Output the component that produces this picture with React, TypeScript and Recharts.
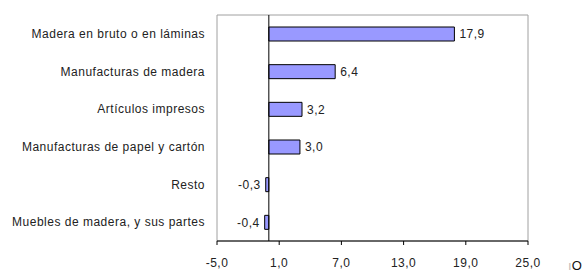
import { BarChart, Bar, XAxis, YAxis, ReferenceLine, ReferenceArea, LabelList } from "recharts";

const categories = [
  "Madera en bruto o en láminas",
  "Manufacturas de madera",
  "Artículos impresos",
  "Manufacturas de papel y cartón",
  "Resto",
  "Muebles de madera, y sus partes",
];

const values = [17.9, 6.4, 3.2, 3.0, -0.3, -0.4];

const xTicks = [-5, 1, 7, 13, 19, 25];

const data = categories.map((name, i) => ({ name, value: values[i] }));

const fmt = (v: number) => v.toFixed(1).replace(".", ",");

const FONT = "Arial, 'Liberation Sans', sans-serif";
const textStyle = { fill: "#222", fontSize: 12, fontFamily: FONT, letterSpacing: 0.5 };

export default function App() {
  return (
    <div style={{ position: "absolute", left: 0, top: 0, width: 588, height: 275, background: "#fff", overflow: "hidden" }}>
      <BarChart
        width={588}
        height={275}
        data={data}
        layout="vertical"
        margin={{ top: 15, right: 60, left: 0, bottom: 4 }}
      >
        <ReferenceArea x1={-5} x2={25} fill="none" stroke="#a0a0a0" strokeWidth={1} ifOverflow="extendDomain" />
        <XAxis
          type="number"
          domain={[-5, 25]}
          ticks={xTicks}
          tickFormatter={fmt}
          axisLine={{ stroke: "#000" }}
          tickLine={{ stroke: "#000" }}
          tickSize={4}
          tickMargin={13}
          height={30}
          tick={textStyle}
        />
        <YAxis
          type="category"
          dataKey="name"
          width={217}
          axisLine={false}
          tickLine={false}
          tickSize={0}
          tickMargin={12}
          tick={textStyle}
        />
        <ReferenceLine x={0} stroke="#000" strokeWidth={1} />
        <Bar dataKey="value" fill="#9999ff" stroke="#000" strokeWidth={1} barSize={14} isAnimationActive={false}>
          <LabelList
            dataKey="value"
            position="right"
            offset={5}
            formatter={(v: any) => fmt(Number(v))}
            style={textStyle}
          />
        </Bar>
      </BarChart>
      <span
        style={{
          position: "absolute",
          left: 568,
          top: 259,
          fontFamily: FONT,
          fontSize: 13,
          color: "#111",
          lineHeight: "13px",
          whiteSpace: "nowrap",
        }}
      >
        <span style={{ color: "#bbb" }}>ı</span>O
      </span>
    </div>
  );
}
